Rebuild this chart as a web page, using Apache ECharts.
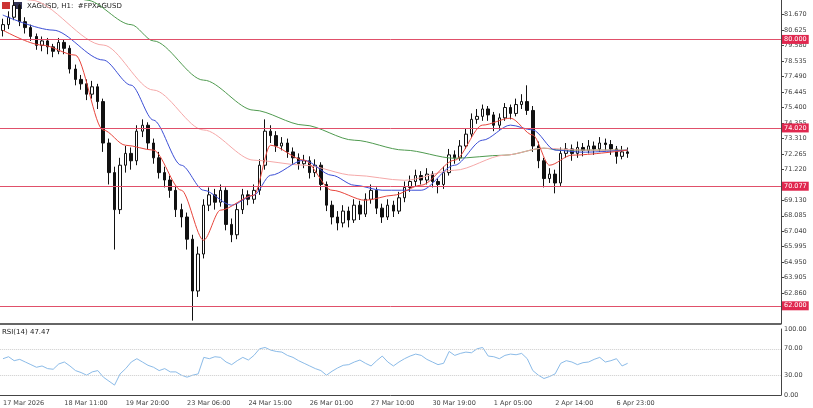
<!DOCTYPE html>
<html><head><meta charset="utf-8">
<script src="https://cdn.jsdelivr.net/npm/echarts@6/dist/echarts.min.js"></script>
<style>html,body{margin:0;padding:0;background:#fff}#c{width:813px;height:408px}</style>
</head><body><div id="c"></div>
<script>
const timeLabels=['17 Mar 2026','18 Mar 11:00','19 Mar 20:00','23 Mar 06:00','24 Mar 15:00','26 Mar 01:00','27 Mar 10:00','30 Mar 19:00','1 Apr 05:00','2 Apr 14:00','6 Apr 23:00'];
const closes=[81.0,81.5,82.3,81.2,80.8,80.2,79.6,79.9,79.5,79.2,79.8,79.4,78.0,77.3,77.0,76.3,76.8,75.8,73.0,71.0,68.5,71.5,72.3,71.8,73.8,74.2,73.0,72.0,71.0,70.5,69.8,68.5,68.0,66.5,63.0,65.5,68.8,69.5,69.0,69.8,67.5,66.8,68.5,69.5,69.2,69.8,71.5,73.8,73.5,72.8,73.0,72.4,72.0,71.6,71.8,71.0,71.5,70.2,68.8,68.0,67.6,68.4,67.8,68.8,68.2,69.2,69.8,68.6,68.0,68.8,68.4,69.3,70.0,70.4,70.8,70.5,70.9,70.4,70.2,71.0,72.2,72.0,72.8,73.6,74.6,74.8,75.3,74.9,74.2,74.7,75.4,75.0,75.6,75.8,75.2,72.8,71.8,70.6,70.9,70.3,72.3,72.6,72.3,72.7,72.5,72.8,72.6,73.0,72.9,72.6,72.1,72.4,72.3];
const firstOpen=80.6;
const highs=[81.4,81.9,82.7,82.4,81.5,81.0,80.4,80.2,80.1,79.7,80.1,80.0,79.6,78.3,77.6,77.3,77.2,77.0,76.0,73.3,71.4,72.0,72.8,72.7,74.2,74.6,74.4,73.3,72.4,71.4,70.8,70.1,68.9,68.3,66.8,66.0,69.2,70.0,69.9,70.2,70.0,67.9,68.9,69.9,69.8,70.2,71.9,74.6,74.2,73.8,73.4,73.3,72.7,72.3,72.2,72.1,71.9,71.7,70.4,69.1,68.4,68.8,68.7,69.2,69.1,69.6,70.2,70.0,68.9,69.2,69.1,69.7,70.4,70.8,71.2,71.1,71.3,71.1,70.6,71.4,72.6,72.5,73.2,74.0,75.0,75.3,75.6,75.5,75.1,75.0,75.7,75.6,76.0,76.3,76.9,75.5,73.1,72.0,71.3,71.2,72.7,73.0,72.9,73.1,73.0,73.2,73.1,73.4,73.3,73.2,72.8,72.8,72.7];
const lows=[80.2,80.7,81.3,80.9,80.4,79.9,79.3,79.2,79.0,78.8,79.0,79.0,77.7,76.9,76.6,75.9,76.0,75.3,72.4,70.2,65.8,68.2,71.0,71.2,71.5,73.4,72.6,71.6,70.6,70.0,69.3,68.0,67.3,65.8,61.0,62.6,65.2,68.4,68.5,68.7,67.1,66.3,66.5,68.2,68.8,68.9,69.5,71.2,73.0,72.4,72.5,72.0,71.6,71.2,71.3,70.6,70.7,69.8,68.4,67.5,67.1,67.3,67.3,67.6,67.8,68.0,68.9,68.2,67.6,67.8,68.0,68.2,69.0,69.7,70.1,70.2,70.2,70.0,69.6,69.9,70.8,71.6,71.8,72.6,73.4,74.3,74.5,74.5,73.8,73.9,74.5,74.6,74.8,75.3,74.9,72.4,71.3,70.0,70.3,69.6,70.1,72.0,71.8,72.0,72.1,72.3,72.2,72.4,72.5,72.2,71.6,71.9,72.0];
const ma200=[[0,85.5],[8,84.0],[15,82.66],[23,81.0],[27,79.9],[36,77.25],[45,75.22],[54,74.21],[63,73.19],[72,72.52],[81,71.97],[90,72.18],[97,72.65],[100,72.52],[112,72.52]];
const ma100=[[0,83.3],[5,82.66],[18,79.62],[27,76.58],[36,73.88],[45,71.84],[54,71.5],[63,70.82],[72,70.48],[81,71.16],[90,72.18],[97,72.65],[104,72.52],[112,72.52]];
const ma50=[[0,81.65],[9,80.63],[18,78.61],[23,76.91],[27,74.55],[32,71.5],[36,69.81],[41,68.8],[45,69.47],[48,70.82],[54,71.84],[59,70.82],[63,70.15],[68,69.81],[75,69.81],[81,71.5],[86,73.19],[91,74.21],[95,73.88],[99,72.52],[104,72.38],[112,72.52]];
const ma20=[[0,80.63],[7,79.62],[13,78.94],[18,73.88],[22,72.85],[27,72.52],[32,69.81],[36,66.43],[39,68.46],[45,69.47],[48,72.85],[54,71.84],[59,69.81],[65,69.13],[70,69.47],[75,70.15],[81,71.84],[86,74.21],[91,74.68],[95,73.54],[98,71.5],[102,72.18],[112,72.52]];
const rsi=[[0,55],[1,58],[2,52],[3,54],[4,50],[5,46],[6,42],[7,44],[8,40],[9,39],[10,47],[11,50],[12,44],[13,37],[14,34],[15,30],[16,35],[17,37],[18,27],[19,21],[20,15],[21,32],[22,40],[23,50],[24,55],[25,50],[26,45],[27,42],[28,37],[29,40],[30,35],[31,35],[32,30],[33,27],[34,30],[35,32],[36,57],[37,55],[38,58],[39,57],[40,50],[41,46],[42,52],[43,57],[44,53],[45,60],[46,70],[47,72],[48,68],[49,66],[50,65],[51,60],[52,57],[53,52],[54,48],[55,44],[56,40],[57,37],[58,30],[59,36],[60,41],[61,45],[62,46],[63,50],[64,53],[65,48],[66,44],[67,52],[68,59],[69,50],[70,44],[71,50],[72,55],[73,59],[74,62],[75,60],[76,54],[77,50],[78,46],[79,48],[80,66],[81,60],[82,63],[83,65],[84,64],[85,70],[86,72],[87,59],[88,58],[89,55],[90,60],[91,62],[92,61],[93,63],[94,55],[95,37],[96,30],[97,25],[98,28],[99,32],[100,48],[101,52],[102,50],[103,46],[104,49],[105,50],[106,54],[107,57],[108,50],[109,52],[110,55],[111,44],[112,48]];
const levels=[80.000,74.020,70.077,62.000];
const levelText=['80.000','74.020','70.077','62.000'];
const NCAT=140;
const cats=[];for(let i=0;i<NCAT;i++){cats.push('');}
for(let k=0;k<timeLabels.length;k++){cats[11*k]=timeLabels[k];}
const ohlc=closes.map((c,i)=>[i===0?firstOpen:closes[i-1],c,lows[i],highs[i]]);
const tf='DejaVu Sans';
const lineS=(d,col,w)=>({type:'line',data:d,smooth:0.3,smoothMonotone:'x',symbol:'none',lineStyle:{color:col,width:w},xAxisIndex:0,yAxisIndex:0,z:3,silent:true});
const chart=echarts.init(document.getElementById('c'),null,{renderer:'canvas'});
chart.setOption({
 animation:false,backgroundColor:'#fff',
 textStyle:{fontFamily:tf},
 grid:[{left:0,right:32,top:0,bottom:84,containLabel:false},{left:0,right:32,top:329,height:66}],
 graphic:[{type:'text',left:27,top:3,style:{text:'XAGUSD, H1:  #FPXAGUSD',fontSize:7,fill:'#222',fontFamily:tf}},
  {type:'rect',shape:{x:2,y:2,width:8,height:7},style:{fill:'#c33'}},
  {type:'rect',shape:{x:14,y:2,width:8,height:7},style:{fill:'#335'}},
  {type:'text',left:2,top:329,style:{text:'RSI(14) 47.47',fontSize:7,fill:'#222',fontFamily:tf}},
  {type:'rect',shape:{x:0,y:323,width:781,height:2},style:{fill:'#666'}}],
 xAxis:[{type:'category',data:cats,gridIndex:0,boundaryGap:true,axisLine:{show:false},axisTick:{show:false},axisLabel:{show:false},splitLine:{show:false}},
  {type:'category',data:cats,gridIndex:1,boundaryGap:true,axisLine:{lineStyle:{color:'#444'}},axisTick:{show:false},
   axisLabel:{interval:0,fontSize:6.5,color:'#444',align:'left',margin:5,formatter:v=>v}}],
 yAxis:[{type:'value',gridIndex:0,position:'right',min:60.770,max:82.665,interval:1.045,
   axisLine:{show:true,lineStyle:{color:'#444'}},axisTick:{show:true,length:3,lineStyle:{color:'#444'}},splitLine:{show:false},
   axisLabel:{fontSize:6.5,color:'#444',margin:3,formatter:v=>v.toFixed(3),showMaxLabel:false,showMinLabel:false}},
  {type:'value',gridIndex:1,position:'right',min:0,max:100,interval:10,
   axisLine:{show:true,lineStyle:{color:'#444'}},axisTick:{show:false},splitLine:{show:false},
   axisLabel:{fontSize:6.5,color:'#444',margin:3,formatter:v=>(v===0||v===30||v===70||v===100)?v.toFixed(2):''}}],
 series:[
  {type:'candlestick',data:ohlc,xAxisIndex:0,yAxisIndex:0,barWidth:3,z:2,
   itemStyle:{color:'#ffffff',color0:'#111',borderColor:'#111',borderColor0:'#111',borderWidth:1},
   markLine:{symbol:'none',silent:true,lineStyle:{color:'#e0506a',width:1,type:'solid'},
    label:{position:'end',formatter:p=>levelText[p.dataIndex],backgroundColor:'#e0284f',color:'#fff',fontSize:6.5,padding:[1,2],distance:1},
    data:levels.map(v=>({yAxis:v}))}},
  lineS(ma200,'#4f9a4f',1),
  lineS(ma100,'#f5a8a8',1),
  lineS(ma50,'#3c4fd6',1),
  lineS(ma20,'#e8453c',1),
  {type:'line',data:rsi,xAxisIndex:1,yAxisIndex:1,symbol:'none',lineStyle:{color:'#8bbbe8',width:1},
   markLine:{symbol:'none',silent:true,label:{show:false},lineStyle:{color:'#ccc',type:'dotted',width:1},data:[{yAxis:30},{yAxis:70}]}}
 ]
});
</script></body></html>
